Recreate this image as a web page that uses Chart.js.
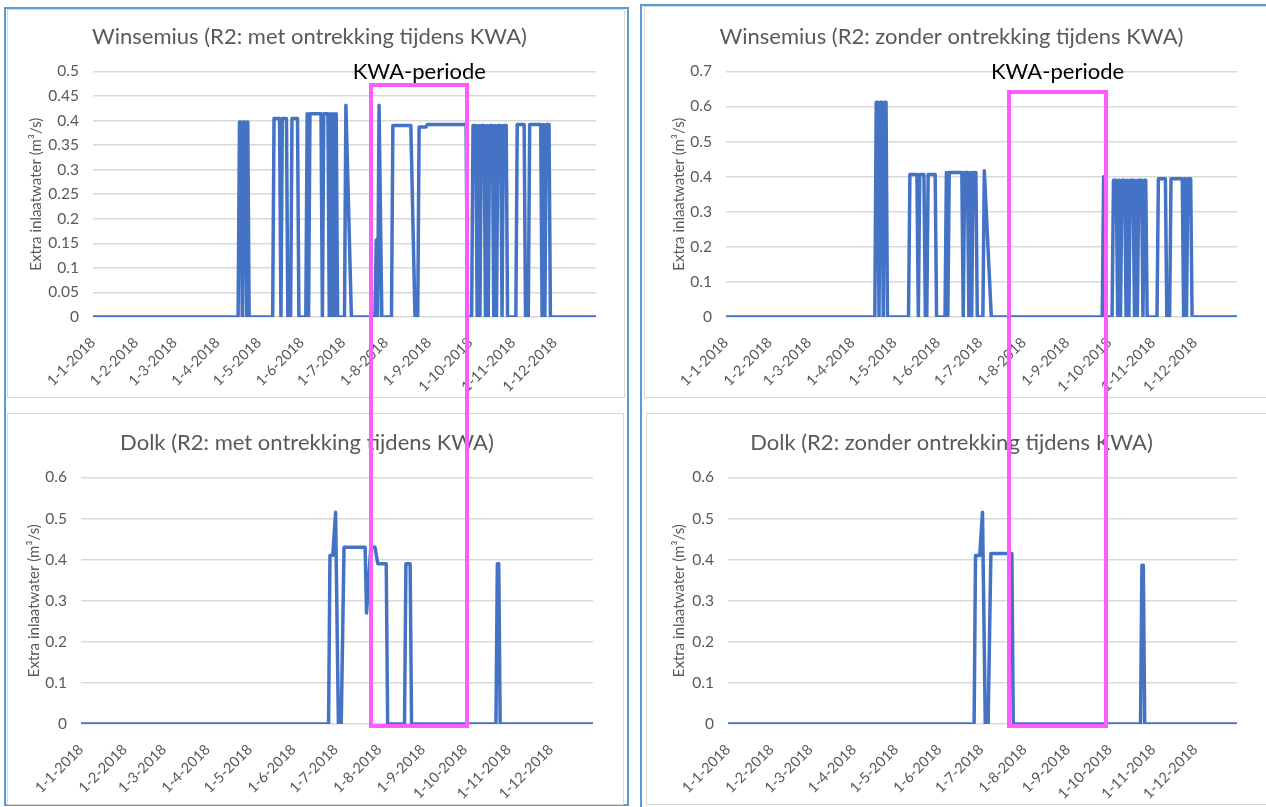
<!DOCTYPE html>
<html><head><meta charset="utf-8">
<script src="https://cdn.jsdelivr.net/npm/chart.js@4.4.1/dist/chart.umd.min.js"></script>
<style>
html,body{margin:0;padding:0;background:#fff;width:1266px;height:807px;overflow:hidden;position:relative;font-family:Lato,sans-serif}
.col{position:absolute;border:2px solid #5b9bd5;box-sizing:border-box}
.box{position:absolute;border:1px solid #d9d9d9;box-sizing:border-box}
canvas{position:absolute}
.kwa{position:absolute;border:4px solid #ff5cff;box-sizing:border-box}
.kwalabel{position:absolute;font-family:Lato;font-size:22px;color:#000;white-space:nowrap;transform:translate(-50%,-50%)}
</style></head><body>
<div class="col" style="left:4px;top:7px;width:625px;height:799px"></div>
<div class="col" style="left:640px;top:4px;width:640px;height:820px"></div>
<div class="box" style="left:7px;top:9px;width:618px;height:389px"></div>
<div class="box" style="left:644px;top:6px;width:630px;height:392px"></div>
<div class="box" style="left:7px;top:413px;width:617px;height:392px"></div>
<div class="box" style="left:646px;top:413px;width:630px;height:392px"></div>
<canvas id="c1" width="616" height="386" style="left:8px;top:10px"></canvas>
<canvas id="c2" width="619" height="388" style="left:645px;top:8px"></canvas>
<canvas id="c3" width="612" height="386" style="left:9px;top:415px"></canvas>
<canvas id="c4" width="616" height="386" style="left:648px;top:415px"></canvas>
<div class="kwa" id="kwaL"></div>
<div class="kwa" id="kwaR"></div>
<div class="kwalabel" id="kwaLabelL">KWA-periode</div>
<div class="kwalabel" id="kwaLabelR">KWA-periode</div>
<script>
// ---- tick labels (x axis: first day of each month, day-of-year index) ----
const monthLabels = ['1-1-2018','1-2-2018','1-3-2018','1-4-2018','1-5-2018','1-6-2018','1-7-2018','1-8-2018','1-9-2018','1-10-2018','1-11-2018','1-12-2018'];
const monthStartDays = [0,31,59,90,120,151,181,212,243,273,304,334];

// ---- titles ----
const titleWinMet = 'Winsemius (R2: met ontrekking tijdens KWA)';
const titleWinZonder = 'Winsemius (R2: zonder ontrekking tijdens KWA)';
const titleDolkMet = 'Dolk (R2: met ontrekking tijdens KWA)';
const titleDolkZonder = 'Dolk (R2: zonder ontrekking tijdens KWA)';
const yAxisTitle = 'Extra inlaatwater (m\u00B3/s)';

// ---- series: day of year (0 = 1-1-2018) and extra inlet flow (m3/s) ----
const winMetDays = [0,105,106,107,108,109,110,111,112,113,130,131,135,136,137,140,141,143,144,148,149,154,155,156,157,165,166,167,170,171,172,173,174,175,176,177,182,183,187,204,205,206,207,209,216,217,230,233,235,236,241,242,270,271,274,275,277,278,279,280,281,283,284,285,286,287,289,290,291,292,293,295,296,297,299,300,306,307,312,313,315,316,324,325,326,327,328,330,331,364];
const winMetValues = [0,0,0.397,0.397,0,0.397,0.397,0,0.397,0,0,0.404,0.404,0,0.404,0.404,0,0,0.404,0.404,0,0,0.414,0,0.414,0.414,0,0.414,0.414,0,0.414,0,0.414,0,0.414,0,0,0.431,0,0,0.157,0,0.431,0,0,0.39,0.39,0,0,0.387,0.387,0.392,0.392,0,0,0.39,0.39,0,0.39,0,0.39,0.39,0,0.39,0,0.39,0.39,0,0.39,0,0.39,0.39,0,0.39,0.39,0,0,0.392,0.392,0,0,0.392,0.392,0,0.392,0,0.392,0.392,0,0];

const winZonderDays = [0,106,107,108,109,110,111,112,113,114,115,130,131,136,137,138,141,142,143,144,149,150,156,157,158,159,168,169,170,172,173,174,175,176,178,179,183,184,189,268,269,270,275,276,278,279,280,281,282,284,285,286,287,288,290,291,292,293,294,296,297,298,299,300,307,308,313,314,316,317,325,326,327,328,329,331,332,364];
const winZonderValues = [0,0,0.612,0.612,0,0.612,0.612,0,0.612,0.612,0,0,0.406,0.406,0,0.406,0.406,0,0,0.406,0.406,0,0,0.412,0,0.412,0.412,0,0.412,0.412,0,0.412,0,0.412,0.412,0,0,0.417,0,0,0.40,0,0,0.39,0.39,0,0.39,0,0.39,0.39,0,0.39,0,0.39,0.39,0,0.39,0,0.39,0.39,0,0.39,0.39,0,0,0.394,0.394,0,0,0.394,0.394,0,0.394,0,0.394,0.394,0,0];

const dolkMetDays = [0,176,177,179,181,183,185,187,202,203,206,209,211,217,218,230,231,234,235,295,296,297,298,364];
const dolkMetValues = [0,0,0.41,0.41,0.515,0,0,0.43,0.43,0.27,0.43,0.43,0.39,0.39,0,0,0.39,0.39,0,0,0.39,0.39,0,0];

const dolkZonderDays = [0,176,177,180,182,184,186,188,203,204,295,296,297,298,364];
const dolkZonderValues = [0,0,0.41,0.41,0.515,0,0,0.415,0.415,0,0,0.386,0.386,0,0];

// ---- KWA period (day of year) and frame top (in units of the upper chart) ----
const kwaStartDay = 201.5;
const kwaEndDay = 270.8;
const kwaTopLeft = 0.4715;
const kwaTopRight = 0.64;

const GREY = '#595959';
function makeChart(id, title, days, values, yMax, yStep, geo) {
  return new Chart(document.getElementById(id), {
    type: 'line',
    data: { datasets: [{
      data: days.map((d, i) => ({ x: d, y: values[i] })),
      borderColor: '#4472c4', borderWidth: 3.5, pointRadius: 0, tension: 0, fill: false,
      borderJoinStyle: 'round', borderCapStyle: 'round'
    }] },
    options: {
      responsive: false, animation: false, events: [],
      layout: { padding: { left: geo.padL, right: geo.padR, top: 0, bottom: 0 } },
      plugins: {
        legend: { display: false }, tooltip: { enabled: false },
        title: { display: true, text: title, color: GREY,
          font: { family: 'Lato', size: 22, weight: 'normal' },
          padding: { top: geo.tTop, bottom: geo.tBot } }
      },
      scales: {
        x: {
          type: 'linear', min: 0, max: 364,
          grid: { display: false }, border: { display: false },
          afterBuildTicks: s => { s.ticks = monthStartDays.map(v => ({ value: v })); },
          afterFit: s => { s.height = geo.xH; },
          ticks: { autoSkip: false, minRotation: 45, maxRotation: 45, padding: 9, color: GREY,
            font: { family: 'Lato', size: 14.5 }, callback: (v, i) => monthLabels[i] }
        },
        y: {
          min: 0, max: yMax,
          grid: { color: '#d9d9d9', lineWidth: 1.5, drawTicks: false }, border: { display: false },
          afterFit: s => { s.width = geo.yW; },
          ticks: { stepSize: yStep, padding: 14, color: GREY, font: { family: 'Lato', size: 15.5 },
            callback: v => String(Number(v.toFixed(2))) },
          title: { display: true, text: yAxisTitle, color: GREY,
            font: { family: 'Lato', size: 15 }, padding: { top: 4, bottom: 0 } }
        }
      }
    }
  });
}

const c1 = makeChart('c1', titleWinMet, winMetDays, winMetValues, 0.5, 0.05,
  { padL: 15, yW: 70, padR: 28, tTop: 14, tBot: 21, xH: 79 });
const c2 = makeChart('c2', titleWinZonder, winZonderDays, winZonderValues, 0.7, 0.1,
  { padL: 21, yW: 60, padR: 27, tTop: 16, tBot: 21, xH: 79 });
const c3 = makeChart('c3', titleDolkMet, dolkMetDays, dolkMetValues, 0.6, 0.1,
  { padL: 12, yW: 60, padR: 28, tTop: 15, tBot: 21, xH: 77 });
const c4 = makeChart('c4', titleDolkZonder, dolkZonderDays, dolkZonderValues, 0.6, 0.1,
  { padL: 18, yW: 62, padR: 27, tTop: 15, tBot: 21, xH: 77 });

function placeKwa(top, bottom, topVal, rectId, labelId) {
  const tc = top.canvas, bc = bottom.canvas;
  const x1 = tc.offsetLeft + top.scales.x.getPixelForValue(kwaStartDay);
  const x2 = tc.offsetLeft + top.scales.x.getPixelForValue(kwaEndDay);
  const y1 = tc.offsetTop + top.scales.y.getPixelForValue(topVal);
  const y2 = bc.offsetTop + bottom.scales.y.getPixelForValue(0) + 2;
  const r = document.getElementById(rectId);
  r.style.left = (x1 - 2) + 'px';
  r.style.top = (y1 - 2) + 'px';
  r.style.width = (x2 - x1 + 4) + 'px';
  r.style.height = (y2 - y1 + 4) + 'px';
  const l = document.getElementById(labelId);
  l.style.left = ((x1 + x2) / 2) + 'px';
  l.style.top = (tc.offsetTop + top.scales.y.getPixelForValue(top.scales.y.max) - 1) + 'px';
}
placeKwa(c1, c3, kwaTopLeft, 'kwaL', 'kwaLabelL');
placeKwa(c2, c4, kwaTopRight, 'kwaR', 'kwaLabelR');
</script>
</body></html>
